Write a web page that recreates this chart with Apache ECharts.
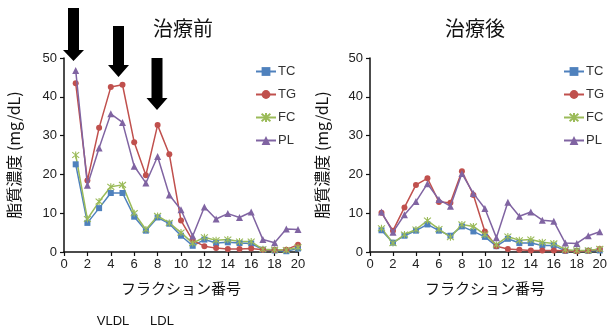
<!DOCTYPE html>
<html><head><meta charset="utf-8">
<script src="https://cdn.jsdelivr.net/npm/echarts@6/dist/echarts.min.js"></script>
<style>html,body{margin:0;padding:0;background:#fff}#c{width:610px;height:329px}</style>
</head><body><div id="c"></div>
<script>
const fractions = [1,2,3,4,5,6,7,8,9,10,11,12,13,14,15,16,17,18,19,20];
const xTicks = [0,2,4,6,8,10,12,14,16,18,20];
const yTicks = [0,10,20,30,40,50];
// 治療前
const beforeTC = [22.6,7.5,11.3,15.2,15.2,9.1,5.5,8.9,7.3,4.2,1.6,3.2,2.3,2.5,2.3,2.2,0.6,0.4,0.2,0.9];
const beforeTG = [43.5,18.4,32.0,42.5,43.1,28.3,19.8,32.7,25.2,8.1,3.0,1.5,1.0,0.8,0.8,0.9,0.6,0.5,0.6,1.9];
const beforeFC = [25.0,8.5,13.0,16.8,17.3,10.0,5.8,9.3,7.5,5.0,2.3,3.8,3.0,3.2,2.7,2.7,0.7,0.6,0.5,1.2];
const beforePL = [46.8,17.2,26.8,35.6,33.4,22.1,17.8,24.6,14.7,10.9,4.1,11.6,8.5,9.9,8.9,10.3,3.2,2.4,5.9,5.8];
// 治療後
const afterTC = [5.6,2.4,4.2,5.5,7.1,5.5,4.2,6.6,5.3,3.9,1.5,3.4,2.3,2.3,1.7,1.7,0.3,0.3,0.3,0.4];
const afterTG = [10.1,5.5,11.5,17.3,19.0,12.9,12.7,20.8,14.7,5.3,1.5,0.8,0.6,0.4,0.4,0.4,0.3,0.2,0.3,0.8];
const afterFC = [6.1,2.3,4.5,5.8,8.1,5.9,3.8,7.1,6.6,4.5,1.9,4.0,3.0,3.2,2.5,2.2,0.6,0.4,0.4,0.8];
const afterPL = [10.3,5.1,9.6,13.0,17.6,13.5,11.8,20.2,15.1,11.2,3.7,12.8,9.2,10.3,8.2,7.9,2.3,2.2,4.2,5.2];

const seriesNames = ['TC','TG','FC','PL'];
const colors = {TC:'#4F81BD', TG:'#C0504D', FC:'#9BBB59', PL:'#8064A2'};
const starPath = 'path://M0,0L10,10M10,0L0,10M5,-1L5,11';
const symbols = {TC:'rect', TG:'circle', FC:starPath, PL:'triangle'};
const symbolSizes = {TC:6, TG:6, FC:7, PL:7};

const FONT = '"Liberation Sans","Noto Sans CJK JP",sans-serif';
const CJK = '"Noto Sans CJK JP","Liberation Sans",sans-serif';

function pairs(vals){ return fractions.map((f,i)=>[f, vals[i]]); }

function mkSeries(name, vals, idx){
  const isStar = name === 'FC';
  return {
    name, type:'line', xAxisIndex:idx, yAxisIndex:idx,
    data: pairs(vals),
    symbol: symbols[name], symbolSize: symbolSizes[name],
    lineStyle:{color:colors[name], width:1.5},
    itemStyle: isStar ? {color:'rgba(0,0,0,0)', borderColor:colors[name], borderWidth:1.1}
                      : {color:colors[name], borderColor:colors[name], borderWidth:0},
    color: colors[name],
    animation:false, z: name==='PL'?3:2
  };
}

function mkX(idx){
  return {
    type:'value', gridIndex:idx, min:xTicks[0], max:xTicks[xTicks.length-1], interval:2,
    name:'フラクション番号', nameLocation:'middle', nameGap:29,
    nameTextStyle:{fontFamily:CJK, fontSize:15, color:'#111'},
    axisLine:{lineStyle:{color:'#111', width:1.5}},
    axisTick:{show:true, inside:false, length:4, lineStyle:{color:'#111', width:1.2}},
    axisLabel:{fontFamily:FONT, fontSize:13, color:'#222', margin:6},
    splitLine:{show:false}
  };
}
function mkY(idx, gap){
  return {
    type:'value', gridIndex:idx, min:yTicks[0], max:yTicks[yTicks.length-1], interval:10,
    name:'脂質濃度 (mg/dL)', nameLocation:'middle', nameGap:gap, nameRotate:90,
    nameTextStyle:{fontFamily:CJK, fontSize:16, color:'#111'},
    axisLine:{show:true, lineStyle:{color:'#111', width:1.5}},
    axisTick:{show:true, inside:false, length:4, lineStyle:{color:'#111', width:1.2}},
    axisLabel:{fontFamily:FONT, fontSize:13, color:'#222', margin:7},
    splitLine:{show:false}
  };
}
function mkLegend(left){
  return {
    orient:'vertical', left, top:60, itemGap:10, itemWidth:20, itemHeight:11,
    data: seriesNames,
    textStyle:{fontFamily:FONT, fontSize:13, color:'#333', padding:[0,0,0,-3]},
    selectedMode:false
  };
}
function arrow(cx, top, hs, tip){
  return {type:'polygon', shape:{points:[[cx-5.5,top],[cx+5.5,top],[cx+5.5,hs],[cx+10.5,hs],[cx,tip],[cx-10.5,hs],[cx-5.5,hs]]},
    style:{fill:'#000'}, z:100};
}
function txt(x,y,t,size,fam){
  return {type:'text', x, y, style:{text:t, font:size+'px '+fam, fill:'#111', align:'center', verticalAlign:'middle', textAlign:'center', textVerticalAlign:'middle'}, z:100};
}

const chart = echarts.init(document.getElementById('c'), null, {renderer:'canvas'});
chart.setOption({
  animation:false,
  backgroundColor:'#fff',
  grid:[
    {left:64, right:312, top:58, bottom:77},
    {left:370, right:6, top:58, bottom:77}
  ],
  xAxis:[mkX(0), mkX(1)],
  yAxis:[mkY(0,42), mkY(1,40)],
  legend:[mkLegend(250), mkLegend(558)],
  series:[
    mkSeries('TC', beforeTC, 0), mkSeries('TG', beforeTG, 0), mkSeries('FC', beforeFC, 0), mkSeries('PL', beforePL, 0),
    mkSeries('TC', afterTC, 1), mkSeries('TG', afterTG, 1), mkSeries('FC', afterFC, 1), mkSeries('PL', afterPL, 1)
  ],
  graphic:[
    txt(183, 28, '治療前', 20, CJK),
    txt(475, 28, '治療後', 20, CJK),
    txt(113, 321, 'VLDL', 13, FONT),
    txt(162, 321, 'LDL', 13, FONT),
    arrow(73.5, 8, 50, 61),
    arrow(118.5, 26, 65, 77),
    arrow(157, 58, 98, 110)
  ]
});
</script></body></html>
